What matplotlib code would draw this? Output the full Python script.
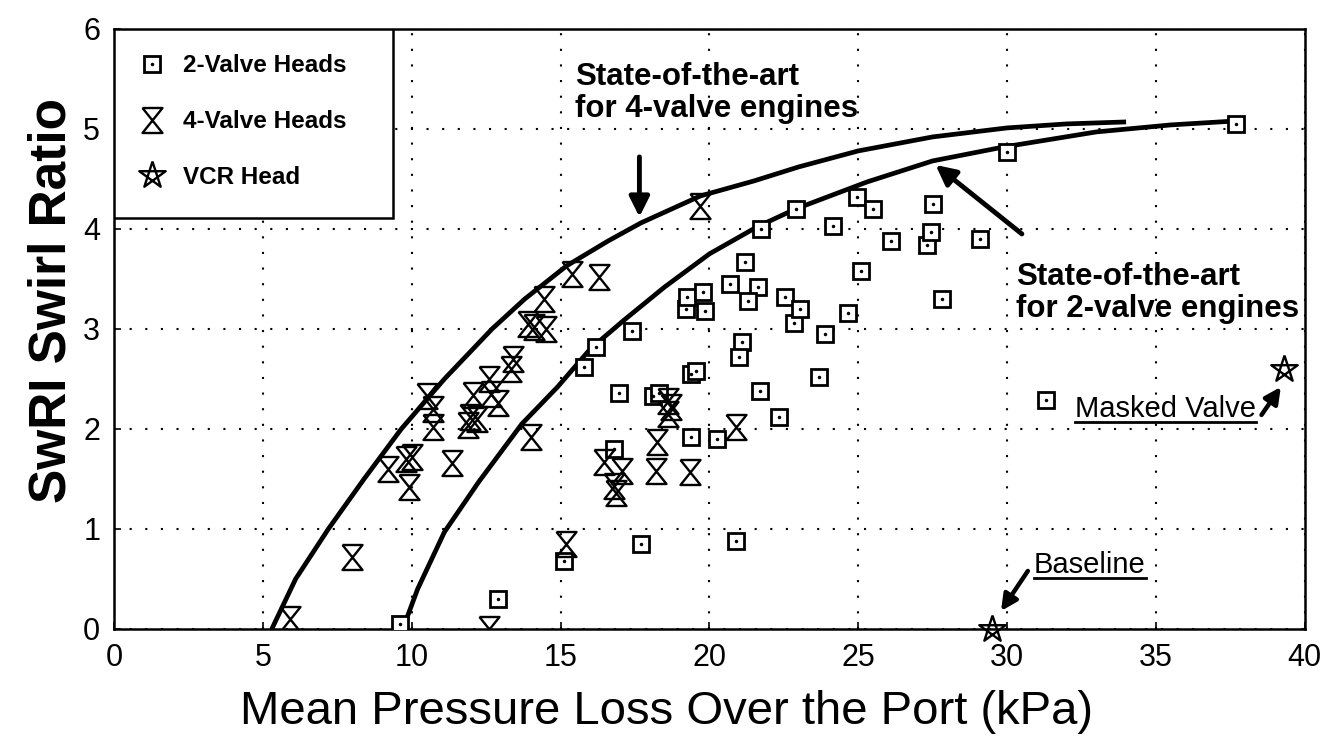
import numpy as np
import matplotlib
matplotlib.use("Agg")
import matplotlib.pyplot as plt
from matplotlib.path import Path
from matplotlib.lines import Line2D
from matplotlib.patches import Rectangle

plt.rcParams['font.family'] = ['Liberation Sans', 'DejaVu Sans']

# --- measured port data: mean pressure loss (kPa) vs SwRI swirl ratio ---
two_valve_dp = [9.6, 12.9, 15.1, 17.7, 20.9, 15.8, 16.2, 17.4, 16.95, 16.8,
                18.1, 18.3, 19.4, 19.4, 19.55, 19.2, 19.25, 19.8, 19.85, 20.25,
                20.7, 21.2, 21.65, 21.3, 21.1, 21.0, 21.7, 21.75, 22.35, 22.55,
                22.9, 22.85, 23.05, 23.7, 23.9, 24.15, 24.65, 24.95, 25.1, 25.5,
                26.1, 27.3, 27.45, 27.5, 27.8, 29.1, 30.0, 31.3, 37.7]
two_valve_sr = [0.05, 0.30, 0.68, 0.85, 0.88, 2.62, 2.82, 2.98, 2.36, 1.80,
                2.33, 2.36, 1.92, 2.55, 2.58, 3.20, 3.32, 3.37, 3.18, 1.90,
                3.45, 3.67, 3.42, 3.28, 2.87, 2.72, 2.38, 4.00, 2.12, 3.32,
                4.20, 3.06, 3.20, 2.52, 2.95, 4.03, 3.16, 4.32, 3.58, 4.20,
                3.88, 3.84, 3.97, 4.25, 3.30, 3.90, 4.77, 2.29, 5.05]

four_valve_dp = [5.9, 8.0, 12.6, 9.2, 9.8, 10.0, 9.9, 10.5, 10.7, 10.7,
                 11.35, 11.9, 11.95, 12.2, 12.05, 12.6, 12.65, 12.9, 13.4, 13.35,
                 13.9, 14.0, 14.45, 14.5, 14.1, 15.4, 16.3, 19.7, 20.9, 16.45,
                 17.05, 16.8, 16.85, 18.25, 18.2, 19.35, 18.6, 18.6, 18.7, 15.2]
four_valve_sr = [0.10, 0.72, 0.00, 1.60, 1.70, 1.72, 1.42, 2.33, 2.20, 2.02,
                 1.66, 2.04, 2.12, 2.10, 2.34, 2.50, 2.35, 2.26, 2.70, 2.60,
                 3.05, 1.92, 3.30, 3.00, 3.02, 3.55, 3.52, 4.23, 2.02, 1.67,
                 1.58, 1.43, 1.36, 1.87, 1.58, 1.57, 2.28, 2.15, 2.22, 0.85]

vcr_dp = [29.5, 39.3]
vcr_sr = [0.0, 2.6]

# state-of-the-art envelopes
sota4_dp = [5.3, 6.1, 7.2, 8.4, 9.65, 11.1, 12.7, 13.8, 15.2, 16.6, 17.7,
            19.7, 21.5, 23.0, 25.0, 27.5, 30.0, 32.0, 34.0]
sota4_sr = [0.0, 0.5, 1.0, 1.5, 2.0, 2.5, 3.0, 3.3, 3.63, 3.88, 4.06,
            4.33, 4.48, 4.62, 4.78, 4.92, 5.01, 5.05, 5.07]
sota2_dp = [9.7, 10.2, 11.1, 12.25, 13.7, 14.9, 16.0, 17.1, 18.5, 20.0,
            21.6, 22.9, 25.3, 27.5, 29.9, 33.0, 35.5, 37.7]
sota2_sr = [0.0, 0.4, 0.97, 1.47, 2.05, 2.42, 2.8, 3.08, 3.42, 3.75,
            4.02, 4.2, 4.47, 4.68, 4.82, 4.97, 5.04, 5.08]

# marker shapes: hourglass for 4-valve, crossed pentagram for VCR
hourglass = Path([(-0.8, 1), (0.8, 1), (-0.8, -1), (0.8, -1), (-0.8, 1)])
ang = np.deg2rad(90 + 144 * np.arange(6))
pentagram = Path(np.column_stack([np.cos(ang), np.sin(ang)]))

fig = plt.figure(figsize=(13.34, 7.51), dpi=100)
ax = fig.add_axes([0.0855, 0.1625, 0.8925, 0.799])

ax.plot(sota4_dp, sota4_sr, color='k', lw=3.4, solid_capstyle='butt', zorder=3)
ax.plot(sota2_dp, sota2_sr, color='k', lw=3.4, solid_capstyle='butt', zorder=3)

sq_kw = dict(ls='none', marker='s', ms=12, mfc='white', mec='k', mew=2)
dot_kw = dict(ls='none', marker='.', ms=3, color='k')
ax.plot(two_valve_dp, two_valve_sr, zorder=4, **sq_kw)
ax.plot(two_valve_dp, two_valve_sr, zorder=5, **dot_kw)
hg_kw = dict(ls='none', marker=hourglass, ms=18, mfc='none', mec='k', mew=1.7)
ax.plot(four_valve_dp, four_valve_sr, zorder=4, **hg_kw)
st_kw = dict(ls='none', marker=pentagram, ms=20, mfc='none', mec='k', mew=1.7)
ax.plot(vcr_dp, vcr_sr, zorder=6, clip_on=False, **st_kw)

ax.set_xlim(0, 40)
ax.set_ylim(0, 6)
ax.set_xticks(range(0, 41, 5))
ax.set_yticks(range(0, 7))
ax.grid(True, color='k', ls=(0, (1, 6.5)), lw=1.5)
for s in ax.spines.values():
    s.set_linewidth(1.8)
ax.tick_params(direction='in', length=5, width=1.2, labelsize=22, pad=10)
fig.text(0.039, 0.6, 'SwRI Swirl Ratio', fontsize=37, fontweight='bold',
         rotation=90, ha='center', va='center')
fig.text(0.5, 0.052, 'Mean Pressure Loss Over the Port (kPa)', fontsize=34,
         ha='center', va='center')

# legend in its own box at the top-left corner
ax.add_patch(Rectangle((0, 0.685), 0.234, 0.315, transform=ax.transAxes,
                       fc='white', ec='k', lw=1.8, zorder=7))
h2 = (Line2D([], [], **sq_kw), Line2D([], [], **dot_kw))
h4 = Line2D([], [], **hg_kw)
hv = Line2D([], [], **st_kw)
leg = ax.legend([h2, h4, hv], ['2-Valve Heads', '4-Valve Heads', 'VCR Head'],
                loc='upper left', bbox_to_anchor=(0.003, 0.99), frameon=False,
                prop=dict(weight='bold', size=17.5), labelspacing=1.35,
                borderpad=0.3, handlelength=1.2, handletextpad=0.7)
leg.set_zorder(8)

# annotations
bold = dict(fontsize=22.5, fontweight='bold', linespacing=1.1, va='center')
ax.text(15.5, 5.36, 'State-of-the-art\nfor 4-valve engines', **bold)
arrow_big = dict(arrowstyle='-|>', lw=3.5, color='k', mutation_scale=30,
                 shrinkA=0, shrinkB=0)
ax.annotate('', xy=(17.65, 4.12), xytext=(17.65, 4.72), arrowprops=arrow_big)
ax.text(30.3, 3.36, 'State-of-the-art\nfor 2-valve engines', **bold)
ax.annotate('', xy=(27.6, 4.64), xytext=(30.5, 3.95), arrowprops=arrow_big)

arrow_small = dict(arrowstyle='-|>', lw=3.2, color='k', mutation_scale=24,
                   shrinkA=0, shrinkB=0)
t_mask = ax.text(32.3, 2.2, 'Masked Valve', fontsize=21, va='center')
ax.annotate('', xy=(39.2, 2.42), xytext=(38.55, 2.14), arrowprops=arrow_small)
t_base = ax.text(30.9, 0.64, 'Baseline', fontsize=21, va='center')
ax.annotate('', xy=(29.8, 0.18), xytext=(30.7, 0.58), arrowprops=arrow_small)

# underline the two callouts
fig.canvas.draw()
r = fig.canvas.get_renderer()
W, H = fig.bbox.width, fig.bbox.height
for t in (t_mask, t_base):
    bb = t.get_window_extent(r)
    yy = (bb.y0 + 1) / H
    fig.add_artist(Line2D([bb.x0 / W, bb.x1 / W], [yy, yy], color='k', lw=2))

fig.savefig('out.png', dpi=100)
